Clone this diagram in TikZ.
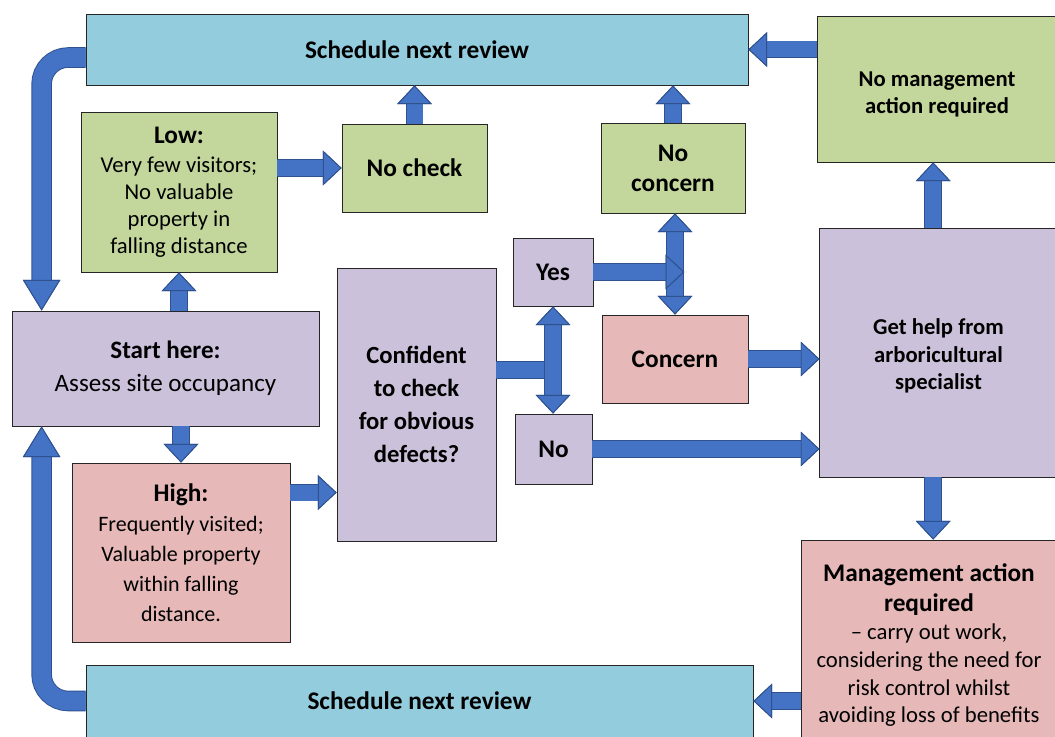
\documentclass[tikz,border=0pt]{standalone}
\usepackage{fontspec}
\setmainfont{Carlito}
\usetikzlibrary{arrows.meta}
\definecolor{revblue}{HTML}{93CDDD}
\definecolor{okgreen}{HTML}{C3D69B}
\definecolor{askpurple}{HTML}{CCC1DA}
\definecolor{riskpink}{HTML}{E6B9B8}
\definecolor{arrowfill}{HTML}{4472C4}
\definecolor{arrowedge}{HTML}{2F528F}
\newcommand{\headbig}{\fontsize{19}{22.5}\selectfont\bfseries}
\begin{document}
\begin{tikzpicture}[x=0.75pt,y=-0.75pt,
    box/.style={draw=black!85,line width=0.6pt,align=center,inner sep=2pt},
    fatarrow/.style={line width=12pt,draw=arrowfill,
      preaction={draw=arrowedge,line width=13.4pt},
      -{Triangle[width=26pt,length=14pt,color=arrowedge,fill=arrowfill,line width=0.7pt]}},
    twoway/.style={fatarrow,
      {Triangle[width=26pt,length=14pt,color=arrowedge,fill=arrowfill,line width=0.7pt]}-{Triangle[width=26pt,length=14pt,color=arrowedge,fill=arrowfill,line width=0.7pt]}},
    loop/.style={line width=14pt,draw=arrowfill,rounded corners=20pt,
      preaction={draw=arrowedge,line width=15.4pt},
      -{Triangle[width=28pt,length=23pt,color=arrowedge,fill=arrowfill,line width=0.7pt]}},
    bar/.style={line width=12pt,draw=arrowfill,
      preaction={draw=arrowedge,line width=13.4pt}}]
\useasboundingbox (0,0) rectangle (1055,737);

% review boxes
\node[box,fill=revblue,minimum width=496.5pt,minimum height=53.25pt,font=\headbig] (sched1) at (417,49.5) {Schedule next review};
\node[box,fill=revblue,minimum width=500.25pt,minimum height=54pt,font=\headbig] (sched2) at (419.5,701) {Schedule next review};

% occupancy
\node[box,fill=askpurple,minimum width=230.25pt,minimum height=86.25pt,font=\fontsize{18.8}{24.75}\selectfont] (start) at (165.5,368.5)
  {\textbf{Start here:}\\Assess site occupancy};
\node[box,fill=okgreen,minimum width=147pt,minimum height=120pt,font=\fontsize{17}{20.3}\selectfont] (low) at (179,192)
  {{\headbig Low:}\\[1.5pt]Very few visitors;\\No valuable\\property in\\falling distance};
\node[box,fill=riskpink,minimum width=163.5pt,minimum height=134.25pt,font=\fontsize{16.5}{22.5}\selectfont] (high) at (181,552.5)
  {{\headbig High:}\\Frequently visited;\\Valuable property\\within falling\\distance.};
\node[box,fill=okgreen,minimum width=108.75pt,minimum height=66pt,font=\headbig] (nocheck) at (414.5,168) {No check};

% check
\node[box,fill=askpurple,minimum width=119.25pt,minimum height=204.75pt,font=\fontsize{18.5}{24.75}\selectfont\bfseries] (conf) at (416.5,404.5)
  {Confident\\to check\\for obvious\\defects?};
\node[box,fill=askpurple,minimum width=60pt,minimum height=51pt,font=\headbig] (yes) at (553,272) {Yes};
\node[box,fill=askpurple,minimum width=57.75pt,minimum height=52.5pt,font=\headbig] (no) at (553.5,449) {No};
\node[box,fill=okgreen,minimum width=108pt,minimum height=67.5pt,font=\headbig] (noconcern) at (673,168)
  {No\\concern};
\node[box,fill=riskpink,minimum width=109.5pt,minimum height=66pt,font=\headbig] (concern) at (675,359) {Concern};

% outcome
\node[box,fill=okgreen,minimum width=180pt,minimum height=109.5pt,font=\fontsize{17}{20.3}\selectfont\bfseries] (nomgmt) at (937,89)
  {\rule{0pt}{19pt}No management\\action required};
\node[box,fill=askpurple,minimum width=178pt,minimum height=186.75pt,font=\fontsize{17}{20.6}\selectfont\bfseries] (help) at (938.5,352.5)
  {\rule{0pt}{17pt}Get help from\\arboricultural\\specialist};
\node[box,fill=riskpink,minimum width=192pt,minimum height=157.5pt,font=\fontsize{17}{20.8}\selectfont] (mgmt) at (929,645)
  {{\headbig Management action}\\[1.7pt]{\headbig required}\\[0.5pt]-- carry out work,\\considering the need for\\risk control whilst\\avoiding loss of benefits};

% arrows
\draw[fatarrow] (nocheck.west -| low.east) -- (nocheck.west);
\draw[fatarrow] (nocheck.north) -- (nocheck.north |- sched1.south);
\draw[fatarrow] (start.north -| low.south) -- (low.south);
\draw[fatarrow] (start.south -| high.north) -- (high.north);
\draw[fatarrow] ([yshift=45pt]high.east) -- ([yshift=45pt]high.east -| conf.west);
\draw[bar] ([yshift=26pt]conf.east) -- ([yshift=26pt]conf.east -| yes.south);
\draw[twoway] (yes.south) -- (yes.south |- no.north);
\draw[twoway] (concern.north |- noconcern.south) -- (concern.north);
\draw[fatarrow] (yes.east) -- ([xshift=7pt]yes.east -| concern.north);
\draw[fatarrow] (noconcern.north) -- (noconcern.north |- sched1.south);
\draw[fatarrow] (concern.east) -- (concern.east -| help.west);
\draw[fatarrow] (no.east) -- (no.east -| help.west);
\draw[fatarrow] ([xshift=-4pt]help.north) -- ([xshift=-4pt]help.north |- nomgmt.south);
\draw[fatarrow] (sched1.east -| nomgmt.west) -- (sched1.east);
\draw[fatarrow] ([xshift=-4pt]help.south) -- ([xshift=-4pt]help.south |- mgmt.north);
\draw[fatarrow] (sched2.east -| mgmt.west) -- (sched2.east);

% back to start
\draw[loop] ([yshift=-6pt]sched1.west) -| ([xshift=22.5pt]start.north west);
\draw[loop] (sched2.west) -| ([xshift=22.5pt]start.south west);
\end{tikzpicture}
\end{document}
